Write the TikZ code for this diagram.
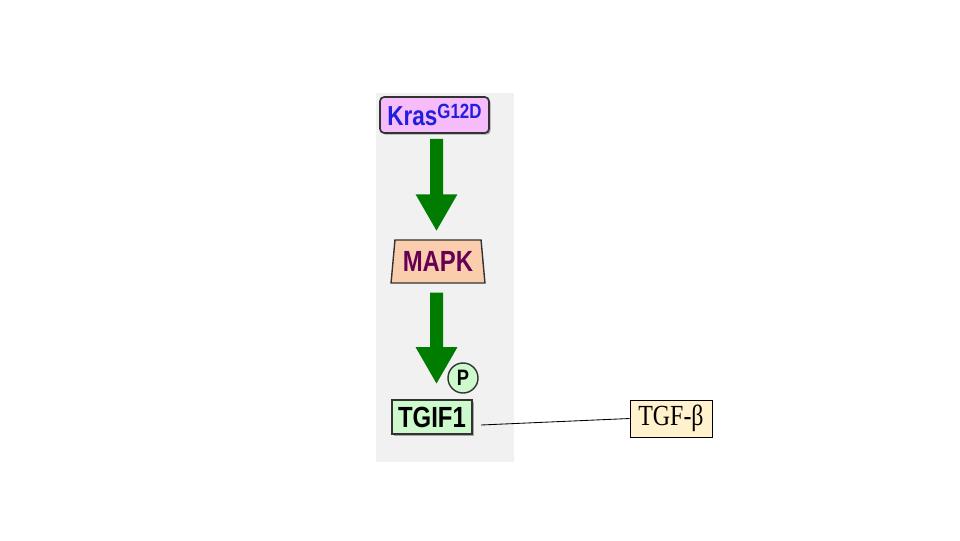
\documentclass[tikz,border=0pt]{standalone}
\usepackage{fontspec}
\setmainfont{Liberation Serif}
\newfontfamily\arialfont{Liberation Sans}
\definecolor{panelgray}{RGB}{241,241,241}
\definecolor{krasfill}{RGB}{246,188,250}
\definecolor{krastext}{RGB}{34,30,222}
\definecolor{mapkfill}{RGB}{250,206,172}
\definecolor{mapktext}{RGB}{102,0,85}
\definecolor{tgiffill}{RGB}{204,250,204}
\definecolor{tgffill}{RGB}{255,242,204}
\definecolor{arrowgreen}{RGB}{0,125,0}
\definecolor{edgegray}{RGB}{50,50,50}
\usetikzlibrary{arrows.meta,positioning,shapes.geometric,shadows}

\newcommand{\tallbox}[1]{\scalebox{1}[1.22]{#1}}

\begin{document}
\begin{tikzpicture}[x=0.025cm, y=-0.025cm,
  gene/.style={rectangle, draw=edgegray, line width=1.2pt, inner sep=0pt,
               drop shadow={shadow xshift=1.2pt, shadow yshift=-1.2pt,
                            fill=gray!70, opacity=1},
               font=\arialfont\bfseries\fontsize{17}{17}\selectfont},
  kinase/.style={trapezium, trapezium stretches, trapezium left angle=81,
                 trapezium right angle=81, draw=edgegray, line width=1pt,
                 inner sep=0pt, fill=mapkfill, text=mapktext,
                 minimum width=2.35cm, minimum height=1.075cm,
                 font=\arialfont\bfseries\fontsize{17}{17}\selectfont},
  phospho/.style={circle, draw=edgegray, line width=1pt, fill=tgiffill,
                  minimum size=0.75cm, inner sep=0pt,
                  font=\arialfont\bfseries\fontsize{13}{13}\selectfont},
  ligand/.style={rectangle, draw=black, line width=0.6pt, fill=tgffill,
                 minimum width=2.05cm, minimum height=0.925cm, inner sep=0pt,
                 font=\fontsize{17}{17}\selectfont},
  activates/.style={-{Triangle[width=0.975cm, length=0.925cm]},
                    line width=0.325cm, draw=arrowgreen}
]
\useasboundingbox (0,0) rectangle (960,540);
\fill[panelgray] (376,93) rectangle (514,462);

\node[gene, rounded corners=3pt, fill=krasfill, text=krastext,
      minimum width=2.725cm, minimum height=0.9cm] (kras) at (434.5,115)
  {\tallbox{\fontsize{16}{16}\selectfont Kras\raisebox{4.5pt}{\fontsize{12}{12}\selectfont G12D}}};
\node[kinase] (mapk) at (438,261.5) {\tallbox{MAPK}};
\node[gene, fill=tgiffill, text=black,
      minimum width=2.0cm, minimum height=0.85cm] (tgif) at (432,417) {\tallbox{TGIF1}};
\node[phospho] (p) at (463,378) {\tallbox{P}};
\node[ligand] (tgf) at (671,418.5) {\tallbox{TGF-β}};
\coordinate (tgiflink) at (481,425);

\draw[activates, shorten <=0.125cm, shorten >=0.2cm]
  ([xshift=1.42pt]kras.south) -- ([xshift=-1.07pt]mapk.north);
\draw[activates, shorten <=0.225cm, shorten >=0.375cm]
  ([xshift=-1.07pt]mapk.south) -- ([xshift=3.2pt]tgif.north);
\draw[line width=0.6pt] (tgiflink) -- (tgf.west);
\end{tikzpicture}
\end{document}
